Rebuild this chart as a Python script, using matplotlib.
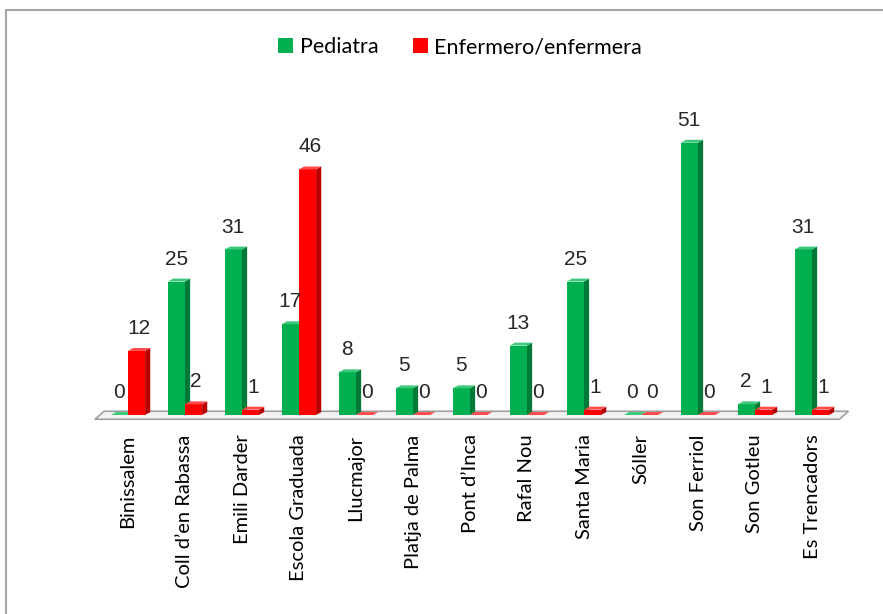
import matplotlib.pyplot as plt
from matplotlib.patches import Polygon, Rectangle

centros = ['Binissalem', 'Coll d’en Rabassa', 'Emili Darder', 'Escola Graduada',
           'Llucmajor', 'Platja de Palma', 'Pont d’Inca', 'Rafal Nou', 'Santa Maria',
           'Sóller', 'Son Ferriol', 'Son Gotleu', 'Es Trencadors']
pediatra = [0, 25, 31, 17, 8, 5, 5, 13, 25, 0, 51, 2, 31]
enfermeria = [12, 2, 1, 46, 0, 0, 0, 0, 1, 0, 0, 1, 1]

GREEN = ('#00B050', '#007A36', '#3CC97A')
RED = ('#FF0000', '#B80000', '#FF4A4A')
W = 0.3      # front face width
DX = 0.09    # depth offset (x, data units)
DY = 0.55    # depth offset (y, data units)


def bar3d(ax, x0, h, colors, z):
    front, side, top = colors
    ax.add_patch(Rectangle((x0, 0), W, h, facecolor=front, edgecolor='none', zorder=z))
    ax.add_patch(Polygon([(x0 + W, 0), (x0 + W + DX, DY), (x0 + W + DX, h + DY), (x0 + W, h)],
                         facecolor=side, edgecolor='none', zorder=z))
    ax.add_patch(Polygon([(x0, h), (x0 + W, h), (x0 + W + DX, h + DY), (x0 + DX, h + DY)],
                         facecolor=top, edgecolor='none', zorder=z))


def main():
    fig = plt.figure(figsize=(8.83, 6.14), dpi=100)
    # outer frame of the chart area
    fig.patches.append(Rectangle((6 / 883, -0.1), 1.2, 1 - 10 / 614 + 0.1,
                                 transform=fig.transFigure, fill=False,
                                 edgecolor='#A6A6A6', linewidth=1.5))
    ax = fig.add_axes([99.5 / 883, 199 / 614, 741 / 883, 315 / 614])
    ax.set_xlim(-0.5, len(centros) - 0.5)
    ax.set_ylim(0, 59)
    for s in ax.spines.values():
        s.set_visible(False)
    ax.set_yticks([])

    # floor
    n = len(centros)
    ax.add_patch(Polygon([(-0.58, -0.8), (n - 0.52, -0.8), (n - 0.36, 0.7), (-0.42, 0.7)],
                         closed=True, facecolor='#F2F2F2', edgecolor='#A0A0A0',
                         linewidth=1.2, clip_on=False, zorder=1))

    for i in range(n):
        bar3d(ax, i - W, pediatra[i], GREEN, 2 + i * 2)
        bar3d(ax, i, enfermeria[i], RED, 3 + i * 2)
        ax.text(i - W / 2 + DX / 2 - 0.05, pediatra[i] + 4.2, str(pediatra[i]), ha='center',
                va='center', fontsize=15, color='#262626', family='Liberation Sans', zorder=40)
        ax.text(i + W / 2 + DX / 2, enfermeria[i] + 4.2, str(enfermeria[i]), ha='center',
                va='center', fontsize=15, color='#262626', family='Liberation Sans', zorder=40)

    ax.set_xticks(range(n))
    ax.set_xticklabels(centros, rotation=90, fontsize=14.5, family='Lato')
    ax.tick_params(axis='x', length=0, pad=14)

    h1 = Rectangle((0, 0), 1, 1, facecolor=GREEN[0])
    h2 = Rectangle((0, 0), 1, 1, facecolor=RED[0])
    fig.legend([h1, h2], ['Pediatra', 'Enfermero/enfermera'], loc='center',
               bbox_to_anchor=(460 / 883, 1 - 47 / 614), ncol=2, frameon=False,
               prop={'family': 'Lato', 'size': 15.5}, handlelength=0.7, handleheight=0.7,
               handletextpad=0.3, columnspacing=1.6)
    fig.savefig('out.png', dpi=100)


if __name__ == '__main__':
    main()
